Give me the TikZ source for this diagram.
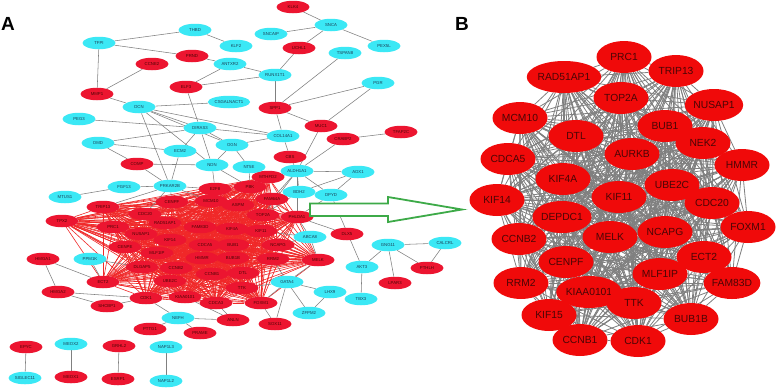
\documentclass[tikz,border=0pt]{standalone}
\usepackage{fontspec}
\setmainfont{Liberation Sans}
\usetikzlibrary{shapes.geometric}
\pgfdeclarelayer{back}
\pgfdeclarelayer{bg}
\pgfsetlayers{back,bg,main}
\definecolor{cyn}{HTML}{3BE8F5}
\definecolor{rdA}{HTML}{EC1530}
\definecolor{rdB}{HTML}{F00A0A}
\definecolor{lnA}{HTML}{F02828}
\definecolor{gry}{HTML}{808080}
\definecolor{txtc}{HTML}{1C3E55}
\definecolor{txtr}{HTML}{4A0505}
\definecolor{grn}{HTML}{3DAA48}
\tikzset{
 nodeA/.style={ellipse, minimum width=33pt, minimum height=12.5pt, inner sep=0.6pt, font=\fontsize{4.3}{5}\selectfont},
 cy/.style={nodeA, fill=cyn, text=txtc},
 rd/.style={nodeA, fill=rdA, text=txtr},
 bn/.style={ellipse, fill=rdB, minimum width=55pt, minimum height=32pt, inner sep=0pt, text=txtr, font=\fontsize{10.3}{11}\selectfont},
 eA/.style={draw=gry, line width=0.55pt},
 eR/.style={draw=lnA, line width=0.6pt},
 eB/.style={draw=gry, line width=0.8pt},
 plabel/.style={font=\fontsize{19}{20}\selectfont\bfseries, inner sep=0pt},
 arrowg/.style={draw=grn, line width=1.8pt, fill=white, line join=miter}
}
\begin{document}
\begin{tikzpicture}[x=1pt,y=-1pt]
\useasboundingbox (0,0) rectangle (778,389);
\begin{pgfonlayer}{back}
\fill[white] (0,0) rectangle (778,389);
\end{pgfonlayer}

\node[plabel] (labA) at (8,24) {A};
\node[plabel] (labB) at (462,24) {B};

% ---------- Panel A: cluster ----------
\foreach \n/\x/\y/\t in {
1/62/221/TPX2, 2/103/207/TRIP13, 3/172/202/CENPF, 4/215/189/E2F8, 5/211/201/MCM10,
6/145/214/CDC20, 7/113/227/PRC1, 8/165/223/RAD51AP1, 9/200/227/FAM83D, 10/141/234/NUSAP1,
11/170/240/KIF14, 12/205/245/CDCA5, 13/125/247/CENPE, 14/157/253/MLF1IP, 15/202/258/HMMR,
16/142/267/DLGAP5, 17/176/268/CCNB2, 18/212/274/CCNB1, 19/170/281/UBE2C, 20/103/282/ECT2,
21/146/298/CDK1, 22/185/297/KIAA0101, 23/216/303/CDCA3, 24/261/303/FOXM1, 25/268/177/MTHFD2,
26/250/187/PBK, 27/272/199/FAM64A, 28/238/205/ASPM, 29/263/215/TOP2A, 30/297/217/PHLDA1,
31/232/229/KIF4A, 32/261/231/KIF11, 33/233/245/BUB1, 34/278/245/NCAPG, 35/233/258/BUB1B,
36/273/259/RRM2, 37/318/260/MELK, 38/243/273/DTL, 39/242/288/TTK}
  {\node[rd] (r\n) at (\x,\y) {\t};}

% ---------- Panel A: other nodes ----------
\node[cy] (THBD) at (195,30) {THBD};
\node[cy] (TFPI) at (99,43) {TFPI};
\node[rd] (PRE) at (192,56) {PRND};
\node[rd] (CCN) at (152,64) {CCNE2};
\node[rd] (MMP) at (97,94) {MMP1};
\node[rd] (ELF) at (186,87) {ELF3};
\node[cy] (DCN) at (139,107) {DCN};
\node[cy] (PEG) at (79,119) {PEG3};
\node[cy] (DIR) at (200,128) {DIRAS3};
\node[cy] (CSG) at (229,102) {CSGALNACT1};
\node[rd] (KLK) at (293,7) {KLK4};
\node[cy] (SNCA) at (331,25) {SNCA};
\node[cy] (SNCAIP) at (271,34) {SNCAIP};
\node[cy] (PEX) at (384,46) {PEX5L};
\node[cy] (KLF) at (236,46) {KLF2};
\node[rd] (UCH) at (299,48) {UCHL1};
\node[cy] (TSP) at (345,53) {TSPAN8};
\node[cy] (ANT) at (230,64) {ANTXR2};
\node[cy] (RUN) at (275,75) {RUNX1T1};
\node[cy] (PGR) at (378,83) {PGR};
\node[rd] (SPP) at (275,108) {SPP1};
\node[rd] (MUC) at (321,126) {MUC1};
\node[rd] (PLA) at (401,132) {TFAP2C};
\node[cy] (OMD) at (98,143) {OMD};
\node[cy] (ECM) at (180,151) {ECM2};
\node[rd] (COMP) at (137,164) {COMP};
\node[cy] (NDN) at (212,165) {NDN};
\node[cy] (PRK) at (170,186) {PRKAR2B};
\node[cy] (FGF) at (124,187) {FGF13};
\node[cy] (MTU) at (65,197) {MTUS1};
\node[cy] (COL) at (283,136) {COL14A1};
\node[rd] (CRA) at (343,139) {CRABP2};
\node[cy] (OGN) at (232,145) {OGN};
\node[rd] (CBS) at (290,157) {CBS};
\node[cy] (NT5) at (249,167) {NT5E};
\node[cy] (ALD) at (297,171) {ALDH1A1};
\node[cy] (AOX) at (358,172) {AOX1};
\node[cy] (BDH) at (299,192) {BDH2};
\node[cy] (DPY) at (331,195) {DPYD};
\node[cy] (ABC) at (310,237) {ABCA8};
\node[rd] (OLF) at (347,234) {DLX5};
\node[cy] (GNG) at (388,245) {GNG11};
\node[cy] (AKT) at (362,267) {AKT3};
\node[rd] (LPA) at (395,283) {LPAR3};
\node[rd] (PTH) at (427,268) {PTHLH};
\node[cy] (CAL) at (445,243) {CALCRL};
\node[cy] (GAT) at (287,282) {GATA4};
\node[cy] (LHX) at (330,292) {LHX9};
\node[cy] (TBX) at (361,299) {TBX3};
\node[cy] (ZFP) at (309,313) {ZFPM2};
\node[rd] (ANL) at (233,320) {ANLN};
\node[rd] (SOX) at (275,324) {SOX11};
\node[cy] (NEF) at (178,318) {NEFH};
\node[rd] (PRA) at (200,333) {PRAME};
\node[rd] (PTT) at (150,329) {PTTG1};
\node[rd] (SHC) at (107,306) {SHCBP1};
\node[rd] (HMA) at (43,259) {HMGA1};
\node[rd] (HMB) at (58,292) {HMGA2};
\node[cy] (PPM) at (90,259) {PPM1K};
\node[rd] (EPY) at (26,347) {EPYC};
\node[cy] (SIG) at (25,378) {SIGLEC11};
\node[cy] (MXB) at (71,344) {MEOX2};
\node[rd] (MXA) at (71,377) {MEOX1};
\node[rd] (GRH) at (119,346) {GRHL2};
\node[rd] (ESR) at (118,379) {ESRP1};
\node[cy] (NPC) at (166,347) {NAP1L3};
\node[cy] (NPB) at (166,381) {NAP1L2};

% ---------- Panel B nodes ----------
\foreach \n/\x/\y/\t in {
1/624/57/PRC1, 2/676/71/TRIP13, 3/564/77/RAD51AP1, 4/621/98/TOP2A, 5/714/105/NUSAP1,
6/520/118/MCM10, 7/665/126/BUB1, 8/576/136/DTL, 9/703/143/NEK2, 10/632/154/AURKB,
11/508/159/CDCA5, 12/742/165/HMMR, 13/563/179/KIF4A, 14/672/185/UBE2C, 15/497/200/KIF14,
16/619/197/KIF11, 17/712/203/CDC20, 18/562/217/DEPDC1, 19/748/227/FOXM1, 20/519/239/CCNB2,
21/610/237/MELK, 22/665/232/NCAPG, 23/704/257/ECT2, 24/566/262/CENPF, 25/660/274/MLF1IP,
26/732/283/FAM83D, 27/521/283/RRM2, 28/589/292/KIAA0101, 29/634/303/TTK, 30/549/315/KIF15,
31/691/319/BUB1B, 32/580/340/CCNB1, 33/638/341/CDK1}
  {\node[bn] (b\n) at (\x,\y) {\t};}

% ---------- arrow ----------
\draw[arrowg] (310,203.5) -- (388,203.5) -- (388,197) -- (462,209.5) -- (388,222) -- (388,216) -- (310,216) -- cycle;

% ---------- edges ----------
\begin{pgfonlayer}{bg}
\foreach \i in {1,...,32}{
  \pgfmathtruncatemacro\ni{\i+1}
  \foreach \j in {\ni,...,33}{\draw[eB] (b\i) -- (b\j);}
}
\foreach \i in {1,...,38}{
  \pgfmathtruncatemacro\ni{\i+1}
  \foreach \j in {\ni,...,39}{\draw[eR] (r\i) -- (r\j);}
}
\foreach \a/\b in {TFPI/THBD, TFPI/PRE, TFPI/MMP, MMP/CCN, MMP/DCN, THBD/KLF, PRE/ANT,
  ELF/ANT, ELF/RUN, ELF/DIR, DCN/CSG, DCN/DIR, DCN/OGN, DCN/COL, DCN/PRK, DCN/NDN,
  PEG/DIR, ANT/RUN, SNCA/KLK, SNCA/SNCAIP, SNCA/PEX, SNCA/UCH, UCH/RUN, RUN/SPP,
  TSP/SPP, PGR/SPP, PGR/MUC, SPP/MUC, SPP/COL, DIR/OGN, DIR/NDN, DIR/COL, DIR/OMD,
  DIR/ECM, OMD/ECM, OGN/NDN, OGN/COL, COL/CBS, MUC/ALD, CRA/ALD, CRA/PLA, CBS/ALD,
  ALD/AOX, ALD/BDH, ALD/DPY, AOX/DPY, AOX/BDH, DPY/AKT, ECM/PRK, OMD/COMP, COMP/PRK,
  COMP/NDN, FGF/MTU, FGF/PRK, GNG/AKT, GNG/LPA, GNG/PTH, GNG/CAL, CAL/PTH, AKT/TBX,
  GAT/LHX, GAT/ZFP, LHX/ZFP, GAT/SOX, NEF/PTT, NEF/PRA, NEF/ANL, HMA/HMB, HMB/SHC,
  EPY/SIG, MXB/MXA, GRH/ESR, NPC/NPB, NT5/OGN}
  {\draw[eA] (\a) -- (\b);}
\foreach \a/\b in {ALD/25, ALD/26, ALD/27, ALD/29, ALD/30, BDH/27, BDH/29, DPY/30,
  NDN/4, NDN/26, NT5/26, PRK/2, PRK/3, PRK/4, PRK/5, PRK/6, ABC/30, ABC/34, ABC/37,
  ABC/32, GAT/24, GAT/37, GAT/36, GAT/39, NEF/21, ANL/23, ANL/22, SOX/24, PPM/16,
  PPM/20, HMA/20, HMB/21, SHC/21, OLF/30}
  {\draw[eA] (\a) -- (r\b);}
\end{pgfonlayer}
\end{tikzpicture}
\end{document}
